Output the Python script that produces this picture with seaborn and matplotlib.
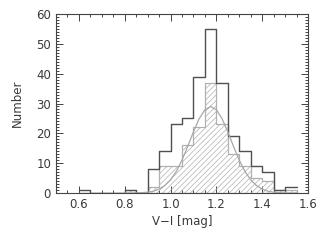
import numpy as np
import pandas as pd
import matplotlib
matplotlib.use("Agg")
import matplotlib.pyplot as plt
import seaborn as sns
from matplotlib.ticker import MultipleLocator

# bin left edges (width 0.05) and counts
bin_left = [0.60, 0.65, 0.70, 0.75, 0.80, 0.85, 0.90, 0.95, 1.00, 1.05,
            1.10, 1.15, 1.20, 1.25, 1.30, 1.35, 1.40, 1.45, 1.50]
n_all = [1, 0, 0, 0, 1, 0, 8, 14, 23, 25, 39, 55, 37, 19, 14, 9, 7, 1, 2]
n_sub = [0, 0, 0, 0, 1, 0, 2, 9, 9, 16, 22, 37, 23, 13, 9, 5, 4, 1, 1]

# gaussian fit curve, read at 0.025 steps
fit_x = [0.800, 0.825, 0.850, 0.875, 0.900, 0.925, 0.950, 0.975, 1.000, 1.025,
         1.050, 1.075, 1.100, 1.125, 1.150, 1.175, 1.200, 1.225, 1.250, 1.275,
         1.300, 1.325, 1.350, 1.375, 1.400, 1.425, 1.450, 1.475, 1.500, 1.525,
         1.550]
fit_y = [0.0, 0.0, 0.04, 0.11, 0.27, 0.6, 1.3, 2.5, 4.4, 7.2,
         11.0, 15.6, 20.5, 24.9, 27.9, 29.0, 27.9, 24.9, 20.5, 15.6,
         11.0, 7.2, 4.4, 2.5, 1.3, 0.6, 0.27, 0.11, 0.04, 0.0,
         0.0]

width = 0.05
edges = list(bin_left) + [bin_left[-1] + width]
df = pd.DataFrame({
    "x": np.array(bin_left) + width / 2,
    "all": n_all,
    "sub": n_sub,
})

sns.set_style("ticks")
plt.rcParams["font.family"] = ["DejaVu Sans"]
plt.rcParams["hatch.color"] = "#b8b8b8"
plt.rcParams["hatch.linewidth"] = 0.5

fig = plt.figure(figsize=(3.27, 2.42), dpi=100)
ax = fig.add_axes([0.171, 0.2025, 0.771, 0.7395])

grey = "#444444"
txt = "#3a3a3a"

# hatched subsample
sns.histplot(data=df, x="x", weights="sub", bins=edges, element="step",
             fill=True, color="#b0b0b0", alpha=0, hatch="//////",
             linewidth=0.9, ax=ax)
# full sample outline
sns.histplot(data=df, x="x", weights="all", bins=edges, element="step",
             fill=False, color="#505050", linewidth=1.0, ax=ax)
# gaussian fit
sns.lineplot(x=fit_x, y=fit_y, color="#a8a8a8", linewidth=0.9, ax=ax)

ax.set_xlim(0.5, 1.6)
ax.set_ylim(0, 60)
ax.xaxis.set_minor_locator(MultipleLocator(0.05))
ax.yaxis.set_major_locator(MultipleLocator(10))
ax.yaxis.set_minor_locator(MultipleLocator(1))
ax.set_xticks([0.6, 0.8, 1.0, 1.2, 1.4, 1.6])
ax.set_xticklabels(["0.6", "0.8", "1.0", "1.2", "1.4", "1.6"])

ax.tick_params(which="both", direction="in", top=True, right=True,
               color=grey, width=0.7, labelsize=8.5, labelcolor=txt)
ax.tick_params(which="major", length=5)
ax.tick_params(which="minor", length=2)
for s in ax.spines.values():
    s.set_color(grey)
    s.set_linewidth(0.8)

ax.set_xlabel("V−I [mag]", fontsize=8.5, color=txt, labelpad=3)
ax.set_ylabel("Number", fontsize=8.5, color=txt, labelpad=9)

fig.savefig("out.png", dpi=100)
